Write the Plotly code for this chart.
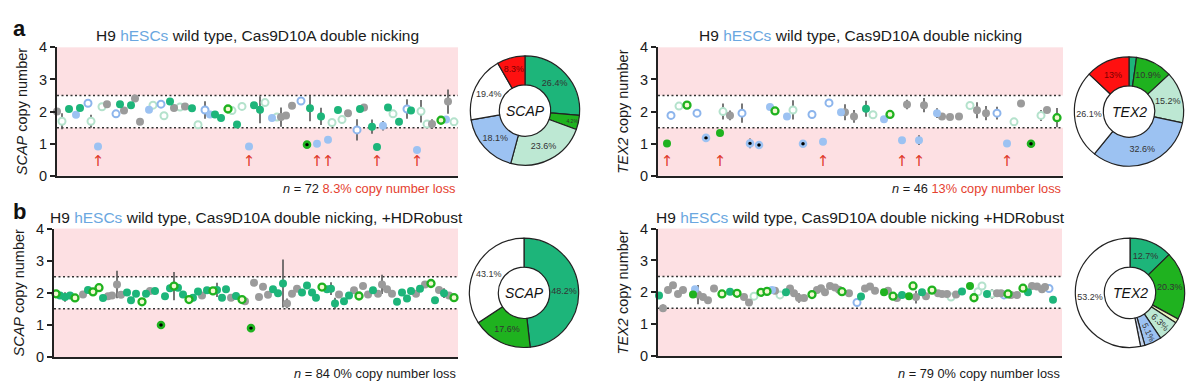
import plotly.graph_objects as go

# ---------------- data ----------------
LOSS_LINE = 1.5
GAIN_LINE = 2.5

# panel a, SCAP
a_scap_x = [2,7,14,21,25,33,36,43,47,52,61,65,69,76,80,85,94,98,106,109,
            115,119,125,130,137,143,150,155,160,166,173,177,182,187,194,199,205,210,217,222,
            226,231,237,246,252,255,262,266,273,277,283,287,293,302,305,309,317,322,328,333,
            338,344,352,356,362,366,372,377,386,391,393,399]
a_scap_y = [2.0,1.7,2.08,1.9,2.11,2.26,1.7,0.91,2.15,2.23,1.93,2.23,2.03,2.2,2.41,1.68,2.06,2.2,2.23,1.87,
            2.31,2.11,2.14,2.16,2.1,1.59,2.05,1.91,1.91,1.8,2.08,2.03,1.6,2.16,0.91,2.2,2.06,2.28,1.8,1.83,
            1.83,1.88,2.18,2.33,0.97,2.1,1.0,1.85,1.12,1.66,2.05,1.75,1.95,1.43,2.08,2.13,1.53,0.9,1.56,2.13,
            1.93,1.68,2.08,2.03,0.8,2.01,1.61,1.61,1.73,1.75,2.31,1.68]
a_scap_type = ["K","mo","G","B","G","bo","mo","B","mo","K","bo","G","K","G","K","K","B","mo","bo","mo",
               "G","K","mo","K","G","mo","bo","B","G","G","go","mo","G","mo","B","G","G","mo","B","mo",
               "K","K","K","bo","gk","G","B","G","B","mo","G","mo","K","bo","G","K","G","G","B","G",
               "mo","G","bo","G","B","mo","mo","K","go","B","K","mo"]
a_scap_err = [0,0.25,0,0,0,0,0.2,0,0,0,0,0,0,0,0,0,0,0,0,0,
              0,0,0,0,0,0,0.27,0,0,0.08,0,0,0,0,0,0,0.42,0,0,0,
              0.3,0,0,0,0,0.4,0,0.27,0,0,0,0,0,0.33,0.08,0,0.22,0,0.15,0,
              0,0,0.3,0,0,0.35,0,0.15,0,0,0.38,0]
a_scap_arrows = [43,194,262,273,322,362]

# panel a, TEX2
a_tex2_x = [12,16,24,32,42,51,65,68,75,87,95,104,115,120,132,138,148,157,168,174,
            186,190,199,211,218,229,235,247,252,264,269,282,287,295,304,315,322,331,342,352,
            359,366,376,386,392,402]
a_tex2_y = [1.01,1.88,2.17,2.2,1.95,1.18,1.33,2.0,1.88,1.95,1.01,0.96,2.14,2.02,1.85,2.05,1.0,1.91,1.06,2.27,
            1.98,1.98,1.85,2.09,1.9,1.76,1.91,1.11,2.22,1.11,2.2,1.95,1.85,1.83,1.85,2.19,2.04,1.95,1.95,1.01,
            1.68,2.25,1.0,1.88,2.05,1.81]
a_tex2_type = ["g","bo","mo","go","bo","bk","g","mo","K","bo","bk","bk","B","go","B","mo","bk","bo","B","bo",
               "B","K","K","G","mo","B","go","B","K","B","K","B","K","K","K","mo","K","K","bo","B",
               "mo","K","gk","mo","K","go"]
a_tex2_err = [0,0,0,0,0,0,0,0.25,0.15,0.3,0.15,0,0,0,0.1,0.3,0,0,0.1,0,
              0,0.25,0.2,0.25,0,0.1,0,0,0.15,0.15,0.22,0.15,0,0,0.1,0.1,0.25,0.22,0.2,0.1,
              0,0,0,0.17,0,0.3]
a_tex2_arrows = [12,65,168,247,264,352]

# panel b, SCAP
b_scap_x = [6,10,15,20,25,33,38,43,49,53,58,62,67,71,77,81,86,92,96,100,
            105,111,115,120,124,128,133,139,143,148,152,157,163,167,172,176,181,186,192,195,
            201,204,209,213,218,223,228,233,237,242,247,252,257,262,266,272,277,281,285,289,
            294,299,304,309,313,318,323,328,332,337,342,347,352,357,361,366,370,375,381,385,
            389,394,399,404]
b_scap_y = [1.97,1.92,1.87,1.92,1.84,1.95,2.09,2.03,2.16,1.84,1.89,1.92,2.26,1.94,2.01,1.77,1.97,1.72,1.97,2.06,
            2.06,1.0,1.89,2.14,2.21,2.16,1.95,1.79,1.85,2.04,1.92,2.08,2.06,2.09,1.85,2.11,1.85,1.9,1.79,1.74,
            0.9,2.31,1.87,2.19,1.94,2.11,1.99,2.29,1.67,1.97,2.13,2.01,2.23,2.01,1.85,2.18,2.11,2.13,1.67,1.95,
            1.74,1.92,2.08,1.9,2.21,1.95,2.08,1.97,2.26,2.11,1.97,1.72,2.01,1.82,2.06,1.97,2.13,2.26,2.29,1.77,
            2.09,1.99,1.92,1.85]
b_scap_type = ["go","G","G","G","go","K","G","go","go","G","K","K","K","K","G","G","G","go","G","K",
               "G","gk","G","G","go","G","G","go","G","G","K","G","go","G","G","G","K","G","go","K",
               "gk","K","K","K","K","G","G","G","K","K","K","G","G","G","G","go","G","G","G","K",
               "G","G","K","go","K","K","G","K","K","K","K","G","G","G","G","K","G","K","go","G",
               "K","G","K","go"]
b_scap_err = [0,0,0.15,0,0.08,0,0,0,0,0,0,0,0.43,0.1,0,0,0,0,0,0,
              0,0,0,0,0.44,0,0,0,0,0,0,0,0,0.22,0,0,0,0,0,0,
              0,0,0,0,0,0,0,0.75,0.15,0,0,0,0,0,0,0,0,0.2,0.18,0,
              0,0,0,0,0,0,0,0,0.3,0,0.1,0,0,0,0,0,0,0,0.08,0.1,
              0,0.15,0,0]
b_scap_arrows = []

# panel b, TEX2
b_tex2_x = [4,8,13,18,23,28,38,40,43,48,53,59,67,75,82,89,94,99,106,112,
            117,120,125,131,135,139,144,149,157,162,166,170,175,180,187,194,202,206,210,215,
            220,229,233,238,242,247,254,258,261,267,271,277,283,287,292,296,301,307,315,319,
            323,327,332,337,342,349,353,356,362,368,373,377,382,387,390,394,398,184,346]
b_tex2_y = [1.9,1.5,2.07,2.22,1.95,2.07,1.93,2.1,1.93,1.85,1.75,2.12,1.95,2.02,1.97,1.85,1.68,1.88,2.0,2.03,
            2.07,2.05,1.92,2.0,2.12,1.97,1.82,1.82,1.93,2.07,2.13,2.0,2.2,2.15,2.02,1.97,1.68,1.87,2.12,2.18,
            2.05,2.0,2.05,1.88,1.82,1.92,1.88,2.2,1.85,2.0,1.88,2.07,1.97,1.95,1.95,1.85,1.93,2.03,2.2,1.83,
            2.02,2.2,1.95,1.95,1.97,1.92,1.95,1.92,1.92,2.13,2.0,2.2,2.18,2.1,2.17,2.12,1.77,2.08,1.97]
b_tex2_type = ["G","K","K","K","K","K","g","B","K","K","K","K","go","G","go","K","K","mo","go","go",
               "B","K","mo","G","K","K","K","K","go","K","K","K","K","K","go","K","bo","G","K","K",
               "K","g","K","go","K","G","g","go","K","G","K","go","K","K","K","mo","K","G","g","go",
               "mo","mo","G","mo","K","bo","go","K","K","go","G","K","K","K","K","bo","G","K","K"]
b_tex2_err = [0,0.12,0,0,0,0,0,0,0.3,0,0,0,0,0,0,0,0,0,0,0,
              0,0,0,0,0,0,0.15,0,0,0,0,0,0,0,0,0,0,0,0,0,
              0,0,0,0,0,0,0,0,0.2,0,0,0,0,0,0,0,0,0,0,0,
              0,0,0,0.15,0,0,0,0.1,0,0,0,0,0,0,0,0,0,0,0]
b_tex2_arrows = []

# donuts (slice values clockwise from 12 o'clock) and their printed labels
a_scap_pie = [26.4, 4.2, 23.6, 18.1, 19.4, 8.3]
a_scap_pie_text = ["26.4%", "4.2%", "23.6%", "18.1%", "19.4%", "8.3%"]
a_tex2_pie = [2.2, 10.9, 15.2, 32.6, 26.1, 13.0]
a_tex2_pie_text = ["", "10.9%", "15.2%", "32.6%", "26.1%", "13%"]
b_scap_pie = [48.2, 17.6, 34.2]
b_scap_pie_text = ["48.2%", "17.6%", "43.1%"]
b_tex2_pie = [12.7, 20.3, 1.3, 6.3, 5.1, 1.3, 53.2]
b_tex2_pie_text = ["12.7%", "20.3%", "", "6.3%", "5.1%", "", "53.2%"]

# ---------------- styles ----------------
C_MED = "#1db57a"
C_BRIGHT = "#1fb21f"
C_MINT = "#bde8d3"
C_BLUE = "#9cc2f2"
C_RED = "#ff1010"
C_GRAY = "#9b9b9b"
PINK = "#fde0e3"

styles = {
    "mo": dict(color="#ffffff", size=7, line=dict(color="#b4e2cc", width=2)),
    "bo": dict(color="#ffffff", size=7, line=dict(color="#8db5ec", width=2)),
    "K": dict(color=C_GRAY, size=8, line=dict(width=0)),
    "B": dict(color=C_BLUE, size=8, line=dict(width=0)),
    "G": dict(color=C_MED, size=8, line=dict(width=0)),
    "g": dict(color=C_BRIGHT, size=8, line=dict(width=0)),
    "go": dict(color="#f3f8d2", size=7, line=dict(color=C_BRIGHT, width=2.3)),
    "bk": dict(color="#000000", size=6, line=dict(color=C_BLUE, width=2.6)),
    "gk": dict(color="#000000", size=6, line=dict(color=C_BRIGHT, width=2.6)),
}
order = ["mo", "bo", "K", "B", "G", "g", "go", "bk", "gk"]

W, H = 1200, 390


def px_x(p):
    return p / W


def px_y(p):
    return 1 - p / H


title_a = "H9 <span style='color:#6aa7e0'>hESCs</span> wild type, Cas9D10A double nicking"
title_b_scap = "H9 <span style='color:#6aa7e0'>hESCs</span> wild type, Cas9D10A double nicking, +HDRobust"
title_b_tex2 = "H9 <span style='color:#6aa7e0'>hESCs</span> wild type, Cas9D10A double nicking +HDRobust"

panels = [
    dict(x=a_scap_x, y=a_scap_y, t=a_scap_type, e=a_scap_err, ar=a_scap_arrows,
         xd=[57, 458], yd=[41, 175], xr=[2, 403], gene="SCAP", title=title_a,
         ntext="<i>n</i> = 72 <span style='color:#e5412f'>8.3% copy number loss</span>", ny=188,
         pie=a_scap_pie, pt=a_scap_pie_text,
         pc=[C_MED, C_BRIGHT, C_MINT, C_BLUE, "#ffffff", C_RED], pcen=(525, 107), ty=29),
    dict(x=a_tex2_x, y=a_tex2_y, t=a_tex2_type, e=a_tex2_err, ar=a_tex2_arrows,
         xd=[658, 1063], yd=[41, 175], xr=[3, 408], gene="TEX2", title=title_a,
         ntext="<i>n</i> = 46 <span style='color:#e5412f'>13% copy number loss</span>", ny=188,
         pie=a_tex2_pie, pt=a_tex2_pie_text,
         pc=[C_MED, C_BRIGHT, C_MINT, C_BLUE, "#ffffff", C_RED], pcen=(1129, 108), ty=29),
    dict(x=b_scap_x, y=b_scap_y, t=b_scap_type, e=b_scap_err, ar=b_scap_arrows,
         xd=[54, 458], yd=[230, 364], xr=[4, 408], gene="SCAP", title=title_b_scap,
         ntext="<i>n</i> = 84 0% copy number loss", ny=381,
         pie=b_scap_pie, pt=b_scap_pie_text,
         pc=[C_MED, C_BRIGHT, "#ffffff"], pcen=(524, 297), ty=218),
    dict(x=b_tex2_x, y=b_tex2_y, t=b_tex2_type, e=b_tex2_err, ar=b_tex2_arrows,
         xd=[658, 1062], yd=[230, 363], xr=[3, 407], gene="TEX2", title=title_b_tex2,
         ntext="<i>n</i> = 79 0% copy number loss", ny=381,
         pie=b_tex2_pie, pt=b_tex2_pie_text,
         pc=[C_MED, C_BRIGHT, "#e8f5bd", C_MINT, C_BLUE, "#c6d5ec", "#ffffff"], pcen=(1130, 297), ty=218),
]

fig = go.Figure()
layout = dict(
    width=W, height=H, margin=dict(l=0, r=0, t=0, b=0),
    paper_bgcolor="white", plot_bgcolor=PINK, showlegend=False,
    font=dict(family="Liberation Sans, Arial, sans-serif", color="#1a1a1a"),
)
shapes = []
annotations = []

for i, p in enumerate(panels, start=1):
    xa = "x" if i == 1 else f"x{i}"
    ya = "y" if i == 1 else f"y{i}"
    xkey = "xaxis" if i == 1 else f"xaxis{i}"
    ykey = "yaxis" if i == 1 else f"yaxis{i}"
    layout[xkey] = dict(domain=[px_x(p["xd"][0]), px_x(p["xd"][1])], range=p["xr"], anchor=ya,
                        showgrid=False, zeroline=False, showticklabels=False, ticks="",
                        showline=True, linecolor="#222", linewidth=2)
    layout[ykey] = dict(domain=[px_y(p["yd"][1]), px_y(p["yd"][0])], range=[0, 4], anchor=xa,
                        tickvals=[0, 1, 2, 3, 4], ticks="outside", ticklen=5, tickwidth=1.5,
                        tickcolor="#222", showgrid=False, zeroline=False, showline=True,
                        linecolor="#222", linewidth=2, tickfont=dict(size=14.5),
                        title=dict(text=f"<i>{p['gene']}</i> copy number", font=dict(size=14.5),
                                   standoff=8))
    # white "normal" band and dotted thresholds
    shapes.append(dict(type="rect", xref=f"{xa} domain", yref=ya, x0=0, x1=1,
                       y0=LOSS_LINE, y1=GAIN_LINE, fillcolor="white", line=dict(width=0), layer="below"))
    for lv in (LOSS_LINE, GAIN_LINE):
        shapes.append(dict(type="line", xref=f"{xa} domain", yref=ya, x0=0, x1=1, y0=lv, y1=lv,
                           line=dict(color="#333", width=1.5, dash="2px,2.5px"), layer="below"))
    # error bars
    fig.add_trace(go.Scatter(x=p["x"], y=p["y"], xaxis=xa, yaxis=ya, mode="markers",
                             marker=dict(size=1, color="rgba(0,0,0,0)"),
                             error_y=dict(type="data", array=p["e"], color="#555555",
                                          thickness=1.6, width=0),
                             cliponaxis=False, hoverinfo="skip"))
    # markers by type
    for code in order:
        xs = [xv for xv, tv in zip(p["x"], p["t"]) if tv == code]
        ys = [yv for yv, tv in zip(p["y"], p["t"]) if tv == code]
        if not xs:
            continue
        fig.add_trace(go.Scatter(x=xs, y=ys, xaxis=xa, yaxis=ya, mode="markers",
                                 marker=dict(symbol="circle", **styles[code]),
                                 cliponaxis=False))
    # red arrows under copy-number-loss clones
    if p["ar"]:
        fig.add_trace(go.Scatter(x=p["ar"], y=[0.42] * len(p["ar"]), xaxis=xa, yaxis=ya,
                                 mode="text", text=["↑"] * len(p["ar"]),
                                 textfont=dict(size=15, color="#e0392b",
                                               family="DejaVu Sans"),
                                 cliponaxis=False, hoverinfo="skip"))
    # donut
    cx, cy = p["pcen"]
    r = 57
    tcolors = ["#7a0000" if c == C_RED else "#333333" for c in p["pc"]]
    fig.add_trace(go.Pie(values=p["pie"], labels=[f"{p['gene']}{i}_{k}" for k in range(len(p["pie"]))],
                         text=p["pt"], textinfo="text", textposition="inside",
                         insidetextorientation="auto" if i == 4 else "horizontal",
                         hole=0.47, sort=False, direction="clockwise", rotation=0,
                         marker=dict(colors=p["pc"], line=dict(color="#222", width=1.2)),
                         textfont=dict(size=9, color=tcolors, family="Liberation Sans, Arial"),
                         domain=dict(x=[px_x(cx - r), px_x(cx + r)], y=[px_y(cy + r), px_y(cy - r)]),
                         hoverinfo="skip", showlegend=False))
    annotations.append(dict(text=f"<i>{p['gene']}</i>", x=px_x(cx), y=px_y(cy), xref="paper",
                            yref="paper", showarrow=False, font=dict(size=14, color="#111"),
                            xanchor="center", yanchor="middle"))
    # title
    annotations.append(dict(text=p["title"], x=px_x((p["xd"][0] + p["xd"][1]) / 2), y=px_y(p["ty"]),
                            xref="paper", yref="paper", showarrow=False, font=dict(size=15.5),
                            xanchor="center", yanchor="middle"))
    # n annotation
    annotations.append(dict(text=p["ntext"], x=px_x(p["xd"][1]), y=px_y(p["ny"]), xref="paper",
                            yref="paper", showarrow=False, font=dict(size=12.8),
                            xanchor="right", yanchor="middle"))

annotations.append(dict(text="<b>a</b>", x=px_x(19), y=px_y(21), xref="paper", yref="paper",
                        showarrow=False, font=dict(size=22, color="#111"), xanchor="center", yanchor="middle"))
annotations.append(dict(text="<b>b</b>", x=px_x(19), y=px_y(212), xref="paper", yref="paper",
                        showarrow=False, font=dict(size=22, color="#111"), xanchor="center", yanchor="middle"))

layout["shapes"] = shapes
layout["annotations"] = annotations
fig.update_layout(**layout)

fig.write_html("out.html", config={"displayModeBar": False},
               post_script="document.body.style.margin='0';")
